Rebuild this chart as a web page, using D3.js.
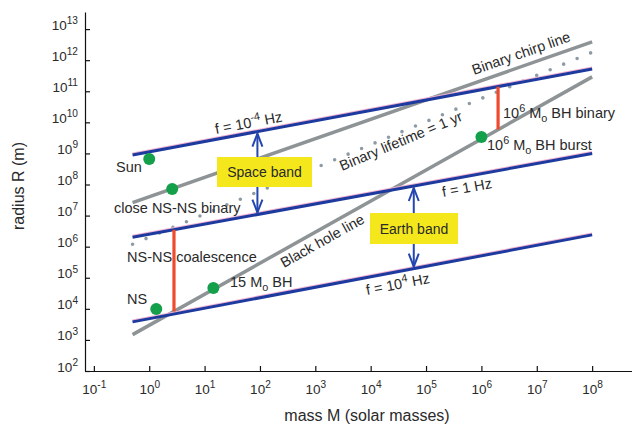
<!DOCTYPE html>
<html>
<head>
<meta charset="utf-8">
<script src="https://cdn.jsdelivr.net/npm/d3@7"></script>
<style>
  body { margin: 0; background: #fff; }
  text { font-family: "Liberation Sans", Arial, Helvetica, sans-serif; fill: #2a2a2a; }
</style>
</head>
<body>
<div id="chart"></div>
<script>
// tick exponents
var xTickExp = [-1, 0, 1, 2, 3, 4, 5, 6, 7, 8];
var yTickExp = [2, 3, 4, 5, 6, 7, 8, 9, 10, 11, 12, 13];

// all straight lines run between these two masses (solar masses)
var lineMass = [0.5, 1e8];
// radius (m) at both ends of each line
var f4mRadius = [8.9e8, 5.2e11];       // f = 1e-4 Hz
var f1Radius = [2.0e6, 1.0e9];         // f = 1 Hz
var f1e4Radius = [3.8e3, 2.4e6];       // f = 1e4 Hz
var bhRadius = [1.48e3, 2.9e11];       // black hole line
var chirpRadius = [2.6e7, 3.9e12];     // binary chirp line
var lifetimeRadius = [1.2e6, 1.8e12];  // binary lifetime = 1 yr

// green points
var dotNames = ["Sun", "close NS-NS binary", "NS", "15 Mo BH", "1e6 Mo BH burst"];
var dotMass = [1, 2.6, 1.34, 14.4, 1e6];
var dotRadius = [6.6e8, 7.2e7, 9.8e3, 4.7e4, 3.4e9];

// red segments
var redMass = [2.8, 2e6];
var redLow = [8.3e3, 5.9e9];
var redHigh = [3.5e6, 1.4e11];

// detector bands (double arrows)
var bandNames = ["Space band", "Earth band"];
var bandMass = [90, 6e4];

var svg = d3.select("#chart").append("svg")
    .attr("width", 632)
    .attr("height", 425);

var x = d3.scaleLog()
    .domain([Math.pow(10, -1.16), Math.pow(10, 8.72)])
    .range([85, 632]);

var y = d3.scaleLog()
    .domain([1e2, Math.pow(10, 13.55)])
    .range([371, 12]);

function lg(v) { return Math.log10(v); }

// radius on a line at a given mass (line is straight in log-log)
function radiusAt(ends, m) {
    var t = (lg(m) - lg(lineMass[0])) / (lg(lineMass[1]) - lg(lineMass[0]));
    return Math.pow(10, lg(ends[0]) + t * (lg(ends[1]) - lg(ends[0])));
}

function lineAngle(ends) {
    return Math.atan2(y(ends[1]) - y(ends[0]), x(lineMass[1]) - x(lineMass[0])) * 180 / Math.PI;
}

// text with ^{sup} and _{sub}
function richText(sel, str, size) {
    var re = /\^\{([^}]*)\}|_\{([^}]*)\}|[^\^_]+/g, m, shift = 0;
    while ((m = re.exec(str)) !== null) {
        var ts = sel.append("tspan");
        if (m[1] !== undefined) {
            ts.text(m[1]).attr("font-size", size * 0.75).attr("dy", -size * 0.42 - shift);
            shift = -size * 0.42;
        } else if (m[2] !== undefined) {
            ts.text(m[2]).attr("font-size", size * 0.75).attr("dy", size * 0.3 - shift);
            shift = size * 0.3;
        } else {
            ts.text(m[0]).attr("dy", -shift);
            shift = 0;
        }
    }
}

// axes
var xAxis = svg.append("g")
    .attr("transform", "translate(0,371)")
    .call(d3.axisBottom(x)
        .tickValues(xTickExp.map(function (e) { return Math.pow(10, e); }))
        .tickSizeInner(-5)
        .tickSizeOuter(0)
        .tickFormat(""));

xAxis.selectAll(".tick text")
    .attr("y", 23)
    .attr("dy", 0)
    .style("font-size", "13.5px")
    .each(function (d) {
        richText(d3.select(this), "10^{" + Math.round(lg(d)) + "}", 13.5);
    });

var yAxis = svg.append("g")
    .attr("transform", "translate(85,0)")
    .call(d3.axisLeft(y)
        .tickValues(yTickExp.map(function (e) { return Math.pow(10, e); }))
        .tickSizeInner(-5)
        .tickSizeOuter(0)
        .tickFormat(""));

yAxis.selectAll(".tick text")
    .attr("x", -7)
    .attr("dy", "0.45em")
    .style("font-size", "13.5px")
    .each(function (d) {
        richText(d3.select(this), "10^{" + Math.round(lg(d)) + "}", 13.5);
    });

svg.selectAll(".domain, .tick line")
    .attr("stroke", "#111")
    .attr("stroke-width", 1.2);

svg.append("text")
    .attr("x", 367)
    .attr("y", 421)
    .attr("text-anchor", "middle")
    .style("font-size", "16px")
    .text("mass M (solar masses)");

svg.append("text")
    .attr("transform", "translate(24,186) rotate(-90)")
    .attr("text-anchor", "middle")
    .style("font-size", "16px")
    .text("radius R (m)");

var line = d3.line()
    .x(function (d) { return x(d[0]); })
    .y(function (d) { return y(d[1]); });

function pts(ends) {
    return [[lineMass[0], ends[0]], [lineMass[1], ends[1]]];
}

// gray lines
[chirpRadius, bhRadius].forEach(function (r) {
    svg.append("path")
        .attr("d", line(pts(r)))
        .attr("fill", "none")
        .attr("stroke", "#8e9396")
        .attr("stroke-width", 3.5);
});

// dotted lifetime line
svg.append("path")
    .attr("d", line(pts(lifetimeRadius)))
    .attr("fill", "none")
    .attr("stroke", "#8d9ba6")
    .attr("stroke-width", 3.6)
    .attr("stroke-linecap", "round")
    .attr("stroke-dasharray", "0 14.6");

// blue frequency lines
[f4mRadius, f1Radius, f1e4Radius].forEach(function (r) {
    svg.append("path")
        .attr("d", line(pts(r)))
        .attr("transform", "translate(0,-1)")
        .attr("fill", "none")
        .attr("stroke", "#f2b3d2")
        .attr("stroke-width", 3);
    svg.append("path")
        .attr("d", line(pts(r)))
        .attr("fill", "none")
        .attr("stroke", "#1d3a9f")
        .attr("stroke-width", 3);
});

// red segments
svg.selectAll(".red").data(redMass).enter().append("line")
    .attr("x1", function (d) { return x(d); })
    .attr("x2", function (d) { return x(d); })
    .attr("y1", function (d, i) { return y(redLow[i]); })
    .attr("y2", function (d, i) { return y(redHigh[i]); })
    .attr("stroke", "#ee4a2e")
    .attr("stroke-width", 3.2);

// band arrows
var bandEnds = [[f4mRadius, f1Radius], [f1Radius, f1e4Radius]];
var boxes = [{ x: 217, y: 157, w: 95, h: 30 }, { x: 370, y: 213, w: 88, h: 31 }];

bandMass.forEach(function (m, i) {
    var xx = x(m);
    var yTop = y(radiusAt(bandEnds[i][0], m)) + 2;
    var yBot = y(radiusAt(bandEnds[i][1], m)) - 2;
    var g = svg.append("g")
        .attr("fill", "none")
        .attr("stroke", "#2446b0")
        .attr("stroke-width", 2);
    g.append("line").attr("x1", xx).attr("x2", xx).attr("y1", yTop).attr("y2", yBot);
    g.append("path").attr("d", "M" + (xx - 5) + "," + (yTop + 13) + "L" + xx + "," + yTop + "L" + (xx + 5) + "," + (yTop + 13));
    g.append("path").attr("d", "M" + (xx - 5) + "," + (yBot - 13) + "L" + xx + "," + yBot + "L" + (xx + 5) + "," + (yBot - 13));

    var b = boxes[i];
    svg.append("rect")
        .attr("x", b.x).attr("y", b.y)
        .attr("width", b.w).attr("height", b.h)
        .attr("fill", "#f4e81d");
    svg.append("text")
        .attr("x", b.x + b.w / 2)
        .attr("y", b.y + b.h / 2 + 5)
        .attr("text-anchor", "middle")
        .style("font-size", "14px")
        .text(bandNames[i]);
});

// green points
svg.selectAll(".dot").data(dotMass).enter().append("circle")
    .attr("cx", function (d) { return x(d); })
    .attr("cy", function (d, i) { return y(dotRadius[i]); })
    .attr("r", 6)
    .attr("fill", "#14a04a");

// labels along lines
var lineLabels = [
    { t: "f = 10^{-4} Hz", x: 216, y: 134, r: f4mRadius },
    { t: "f = 1 Hz", x: 443, y: 197, r: f1Radius },
    { t: "f = 10^{4} Hz", x: 367, y: 295, r: f1e4Radius },
    { t: "Binary chirp line", x: 474, y: 75, r: chirpRadius },
    { t: "Binary lifetime = 1 yr", x: 342, y: 171, r: lifetimeRadius },
    { t: "Black hole line", x: 284, y: 268, r: bhRadius }
];

lineLabels.forEach(function (l) {
    var t = svg.append("text")
        .attr("transform", "translate(" + l.x + "," + l.y + ") rotate(" + lineAngle(l.r) + ")")
        .style("font-size", "14.5px");
    richText(t, l.t, 14.5);
});

// plain labels
var plainLabels = [
    { t: "Sun", x: 116, y: 172 },
    { t: "close NS-NS binary", x: 114, y: 213 },
    { t: "NS-NS coalescence", x: 127, y: 262 },
    { t: "NS", x: 127, y: 304 },
    { t: "15 M_{o} BH", x: 230, y: 287 },
    { t: "10^{6} M_{o} BH binary", x: 503, y: 118 },
    { t: "10^{6} M_{o} BH burst", x: 487, y: 150 }
];

plainLabels.forEach(function (l) {
    var t = svg.append("text")
        .attr("x", l.x)
        .attr("y", l.y)
        .style("font-size", "14.5px");
    richText(t, l.t, 14.5);
});
</script>
</body>
</html>
